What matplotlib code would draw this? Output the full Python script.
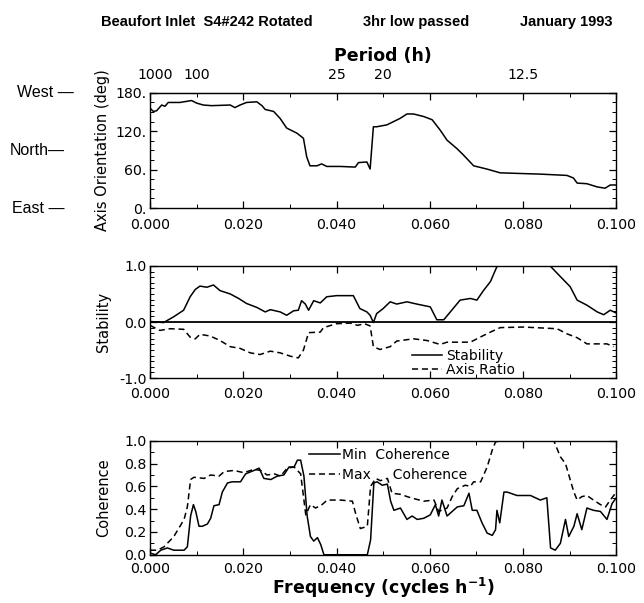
import matplotlib
matplotlib.use("Agg")
import matplotlib.pyplot as plt
from matplotlib.ticker import MultipleLocator, FixedLocator
from matplotlib.transforms import blended_transform_factory
import numpy as np

# ---------------- data ----------------
orient_f = [0.0, 0.0007, 0.0014, 0.0025, 0.0032, 0.0039, 0.0064, 0.0089, 0.0100, 0.0114,
            0.0132, 0.0172, 0.0182, 0.0193, 0.0207, 0.0229, 0.0240, 0.0247, 0.0265, 0.0279,
            0.0293, 0.0315, 0.0329, 0.0336, 0.0343, 0.0358, 0.0368, 0.0379, 0.0408, 0.0440,
            0.0447, 0.0465, 0.0472, 0.0479, 0.0486, 0.0508, 0.0522, 0.0536, 0.0551, 0.0565,
            0.0587, 0.0605, 0.0622, 0.0637, 0.0658, 0.0672, 0.0694, 0.0722, 0.0751, 0.0837,
            0.0894, 0.0908, 0.0916, 0.0937, 0.0959, 0.0976, 0.0987, 0.0998]
orient_deg = [156, 151, 152, 161, 159, 165, 165, 168, 164, 161,
              160, 161, 157, 161, 165, 166, 160, 154, 151, 140,
              125, 117, 109, 80, 66, 66, 69, 65, 65, 64,
              71, 72, 61, 127, 127, 130, 135, 140, 147, 147,
              143, 138, 122, 106, 93, 83, 66, 61, 55, 53,
              51, 47, 39, 38, 33, 31, 36, 36]

stab_f = [0.0, 0.0014, 0.0029, 0.0050, 0.0072, 0.0086, 0.0097, 0.0107, 0.0122, 0.0136,
          0.0150, 0.0172, 0.0190, 0.0207, 0.0229, 0.0247, 0.0258, 0.0279, 0.0293, 0.0308,
          0.0318, 0.0325, 0.0333, 0.0340, 0.0351, 0.0365, 0.0379, 0.0400, 0.0436, 0.0450,
          0.0465, 0.0472, 0.0479, 0.0486, 0.0500, 0.0515, 0.0529, 0.0551, 0.0572, 0.0601,
          0.0615, 0.0630, 0.0644, 0.0665, 0.0687, 0.0701, 0.0715, 0.0730, 0.0744, 0.0751,
          0.0858, 0.0880, 0.0901, 0.0916, 0.0937, 0.0959, 0.0973, 0.0987, 0.1000]
stability = [0.01, 0.0, -0.01, 0.09, 0.21, 0.45, 0.58, 0.64, 0.62, 0.66,
             0.56, 0.50, 0.42, 0.33, 0.26, 0.18, 0.22, 0.18, 0.12, 0.20,
             0.21, 0.38, 0.32, 0.21, 0.38, 0.34, 0.45, 0.47, 0.47, 0.24,
             0.18, 0.12, -0.01, 0.15, 0.24, 0.36, 0.32, 0.36, 0.32, 0.27,
             0.04, 0.04, 0.18, 0.39, 0.42, 0.39, 0.56, 0.72, 0.99, 1.0,
             1.0, 0.81, 0.63, 0.39, 0.30, 0.18, 0.13, 0.21, 0.16]

ratio_f = [0.0, 0.0021, 0.0043, 0.0072, 0.0086, 0.0097, 0.0107, 0.0129, 0.0150, 0.0172,
           0.0193, 0.0215, 0.0236, 0.0258, 0.0279, 0.0301, 0.0318, 0.0329, 0.0340, 0.0365,
           0.0372, 0.0400, 0.0430, 0.0445, 0.0460, 0.0472, 0.0479, 0.0493, 0.0515, 0.0529,
           0.0565, 0.0594, 0.0622, 0.0637, 0.0687, 0.0708, 0.0730, 0.0751, 0.0801, 0.0873,
           0.0894, 0.0916, 0.0937, 0.0980, 0.0994]
axis_ratio = [-0.06, -0.15, -0.12, -0.13, -0.27, -0.30, -0.22, -0.25, -0.33, -0.44,
              -0.47, -0.55, -0.58, -0.52, -0.55, -0.61, -0.64, -0.50, -0.19, -0.18,
              -0.10, -0.03, -0.02, -0.06, -0.03, -0.07, -0.44, -0.49, -0.44, -0.34,
              -0.30, -0.33, -0.40, -0.36, -0.36, -0.27, -0.18, -0.10, -0.09, -0.12,
              -0.21, -0.28, -0.39, -0.39, -0.44]

minc_f = [0.0, 0.0012, 0.0023, 0.0037, 0.0051, 0.0073, 0.0080, 0.0087, 0.0093, 0.0098,
          0.0105, 0.0112, 0.0123, 0.0130, 0.0137, 0.0148, 0.0155, 0.0166, 0.0176, 0.0194,
          0.0205, 0.0223, 0.0234, 0.0244, 0.0259, 0.0273, 0.0287, 0.0298, 0.0309, 0.0316,
          0.0323, 0.0330, 0.0337, 0.0344, 0.0351, 0.0359, 0.0366, 0.0373, 0.0466, 0.0473,
          0.0480, 0.0487, 0.0498, 0.0509, 0.0516, 0.0523, 0.0537, 0.0551, 0.0562, 0.0573,
          0.0587, 0.0601, 0.0612, 0.0619, 0.0626, 0.0637, 0.0648, 0.0659, 0.0673, 0.0684,
          0.0691, 0.0701, 0.0712, 0.0723, 0.0734, 0.0741, 0.0744, 0.0750, 0.0759, 0.0766,
          0.0787, 0.0816, 0.0837, 0.0851, 0.0859, 0.0869, 0.0880, 0.0891, 0.0898, 0.0909,
          0.0916, 0.0926, 0.0937, 0.0951, 0.0966, 0.0980, 0.0991, 0.1000]
min_coh = [0.015, 0.0, 0.04, 0.06, 0.04, 0.04, 0.07, 0.34, 0.44, 0.38,
           0.25, 0.25, 0.27, 0.32, 0.43, 0.44, 0.55, 0.63, 0.64, 0.64,
           0.71, 0.74, 0.76, 0.67, 0.66, 0.69, 0.70, 0.77, 0.77, 0.83,
           0.83, 0.69, 0.34, 0.16, 0.12, 0.15, 0.09, 0.0, 0.0, 0.13,
           0.63, 0.64, 0.61, 0.62, 0.47, 0.39, 0.41, 0.31, 0.34, 0.31,
           0.32, 0.35, 0.44, 0.34, 0.48, 0.34, 0.38, 0.42, 0.43, 0.54,
           0.39, 0.39, 0.28, 0.19, 0.17, 0.22, 0.39, 0.28, 0.55, 0.55,
           0.52, 0.52, 0.48, 0.50, 0.06, 0.04, 0.10, 0.31, 0.16, 0.25,
           0.36, 0.22, 0.41, 0.39, 0.38, 0.31, 0.45, 0.50]

maxc_f = [0.0, 0.0016, 0.0030, 0.0051, 0.0073, 0.0080, 0.0087, 0.0094, 0.0116, 0.0130,
          0.0148, 0.0159, 0.0180, 0.0201, 0.0223, 0.0237, 0.0251, 0.0266, 0.0280, 0.0294,
          0.0309, 0.0323, 0.0334, 0.0344, 0.0355, 0.0369, 0.0380, 0.0409, 0.0434, 0.0441,
          0.0451, 0.0466, 0.0473, 0.0484, 0.0494, 0.0509, 0.0519, 0.0537, 0.0559, 0.0587,
          0.0609, 0.0619, 0.0637, 0.0648, 0.0659, 0.0676, 0.0687, 0.0694, 0.0709, 0.0723,
          0.0734, 0.0741, 0.0751, 0.0866, 0.0880, 0.0891, 0.0901, 0.0909, 0.0916, 0.0926,
          0.0937, 0.0951, 0.0966, 0.0977, 0.0987, 0.1000]
max_coh = [0.04, 0.04, 0.07, 0.16, 0.31, 0.42, 0.66, 0.68, 0.67, 0.70,
           0.69, 0.73, 0.74, 0.72, 0.75, 0.74, 0.70, 0.71, 0.69, 0.76,
           0.77, 0.71, 0.35, 0.44, 0.41, 0.44, 0.48, 0.48, 0.47, 0.36,
           0.23, 0.25, 0.60, 0.67, 0.65, 0.67, 0.54, 0.53, 0.50, 0.47,
           0.48, 0.38, 0.41, 0.51, 0.58, 0.61, 0.60, 0.64, 0.64, 0.77,
           0.92, 0.99, 1.0, 1.0, 0.86, 0.80, 0.66, 0.55, 0.48, 0.51,
           0.52, 0.48, 0.44, 0.42, 0.48, 0.55]

period_labels = ['1000', '100', '25', '20', '12.5']
period_hours = [1000, 100, 25, 20, 12.5]

# ---------------- figure ----------------
plt.rcParams['font.family'] = ['DejaVu Sans']
fig = plt.figure(figsize=(6.44, 6.03), dpi=100)

L, W = 0.233, 0.724
ax1 = fig.add_axes([L, 0.655, W, 0.191])
ax2 = fig.add_axes([L, 0.373, W, 0.186])
ax3 = fig.add_axes([L, 0.080, W, 0.189])

lw = 1.1
tick_fs = 10.2

def style(ax, xpad):
    ax.set_xlim(0, 0.1)
    ax.xaxis.set_major_locator(MultipleLocator(0.02))
    ax.xaxis.set_minor_locator(MultipleLocator(0.01))
    ax.xaxis.set_major_formatter(plt.FuncFormatter(lambda v, p: f"{v:.3f}"))
    ax.tick_params(which='both', direction='in', top=True, right=True, labelsize=tick_fs)
    ax.tick_params(which='major', length=5, width=0.9)
    ax.tick_params(which='minor', length=3, width=0.7)
    ax.tick_params(axis='x', which='major', pad=xpad)
    ax.tick_params(axis='y', which='major', pad=2.5)
    for s in ax.spines.values():
        s.set_linewidth(1.0)

# Top panel
ax1.plot(orient_f, orient_deg, color='black', lw=lw)
style(ax1, 7.5)
ax1.set_ylim(0, 180)
ax1.yaxis.set_major_locator(FixedLocator([0, 60, 120, 180]))
ax1.yaxis.set_minor_locator(MultipleLocator(15))
ax1.yaxis.set_major_formatter(plt.FuncFormatter(lambda v, p: f"{int(v)}."))
ax1.set_ylabel('Axis Orientation (deg)', fontsize=10.5)
ax1.yaxis.set_label_coords(-0.086, 0.5)

sec = ax1.secondary_xaxis('top', functions=(lambda x: x, lambda x: x))
sec.set_xticks([1.0 / p for p in period_hours])
sec.set_xticklabels(period_labels)
sec.tick_params(length=0, labelsize=tick_fs, pad=8)
sec.set_xlabel('Period (h)', fontsize=12.5, fontweight='bold', labelpad=5)

tr = blended_transform_factory(fig.transFigure, ax1.transData)
ax1.text(17 / 644, 180, 'West \u2014', transform=tr, fontsize=11.5, va='center', ha='left',
         family='Liberation Sans')
ax1.text(10 / 644, 90, 'North\u2014', transform=tr, fontsize=11.5, va='center', ha='left',
         family='Liberation Sans')
ax1.text(12 / 644, 0, 'East \u2014', transform=tr, fontsize=11.5, va='center', ha='left',
         family='Liberation Sans')

# Middle panel
ax2.plot(stab_f, stability, color='black', lw=lw, label='Stability')
ax2.plot(ratio_f, axis_ratio, color='black', lw=lw, ls=(0, (4, 2.5)), label='Axis Ratio')
ax2.axhline(0, color='black', lw=1.3)
style(ax2, 6.5)
ax2.set_ylim(-1, 1)
ax2.yaxis.set_major_locator(FixedLocator([-1.0, 0.0, 1.0]))
ax2.yaxis.set_minor_locator(MultipleLocator(0.1))
ax2.yaxis.set_major_formatter(plt.FuncFormatter(lambda v, p: f"{v:.1f}"))
ax2.set_ylabel('Stability', fontsize=10.5)
ax2.yaxis.set_label_coords(-0.084, 0.5)
ax2.legend(loc='lower left', bbox_to_anchor=(0.54, -0.08), frameon=False, fontsize=10,
           handlelength=2.2, handletextpad=0.3, labelspacing=0.05, borderpad=0.2)

# Bottom panel
ax3.plot(minc_f, min_coh, color='black', lw=lw, label='Min  Coherence')
ax3.plot(maxc_f, max_coh, color='black', lw=lw, ls=(0, (4, 2.5)), label='Max     Coherence')
style(ax3, 5)
ax3.set_ylim(0, 1)
ax3.yaxis.set_major_locator(MultipleLocator(0.2))
ax3.yaxis.set_minor_locator(MultipleLocator(0.1))
ax3.yaxis.set_major_formatter(plt.FuncFormatter(lambda v, p: f"{v:.1f}"))
ax3.set_ylabel('Coherence', fontsize=10.5)
ax3.yaxis.set_label_coords(-0.084, 0.5)
ax3.set_xlabel('Frequency (cycles h$^{\\mathbf{-1}}$)', fontsize=12.5, fontweight='bold',
               labelpad=0)
ax3.legend(loc='upper left', bbox_to_anchor=(0.32, 1.02), frameon=False, fontsize=10,
           handlelength=2.2, handletextpad=0.2, labelspacing=0.4, borderpad=0.2)

# Header
hdr = dict(fontsize=10.5, fontweight='bold', family='Liberation Sans', va='center')
fig.text(101 / 644, 1 - 22 / 603, 'Beaufort Inlet  S4#242 Rotated', ha='left', **hdr)
fig.text(363 / 644, 1 - 22 / 603, '3hr low passed', ha='left', **hdr)
fig.text(612 / 644, 1 - 22 / 603, 'January 1993', ha='right', **hdr)

fig.savefig('out.png', dpi=100)
